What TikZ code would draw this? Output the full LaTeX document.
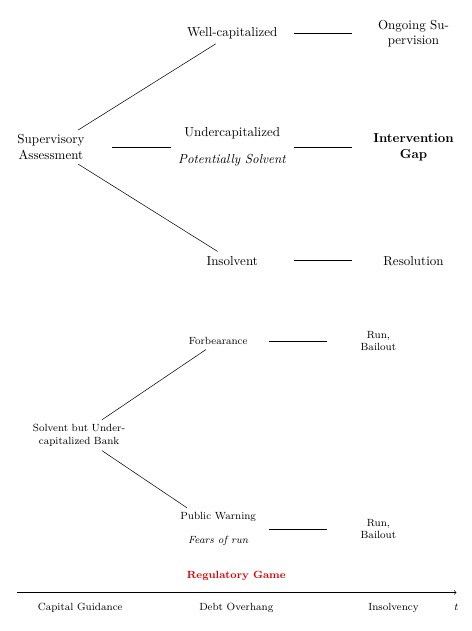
\documentclass[tikz,border=0pt]{standalone}
\usepackage{amsmath,amssymb}
\usetikzlibrary{positioning}

\begin{document}
\begin{tikzpicture}[on grid, node distance=30.7mm and 49mm, >=to]
\tikzstyle{st}=[align=center, minimum width=3.3cm, inner sep=3.33pt]
\tikzstyle{outc}=[st, text width=2.2cm]
\tikzstyle{sm}=[align=center, minimum width=2.75cm, font=\footnotesize]
\tikzstyle{tl}=[font=\footnotesize]
\path[use as bounding box] (-39.2pt,113.1pt) rectangle (323.8pt,-372.2pt);
% supervisory assessment tree
\node[outc] (sup) at (0,0) {Supervisory Assessment};
\node[st, right=of sup] (under) {Undercapitalized\\[3mm]\textit{Potentially Solvent}};
\node[st, above=of under] (wc) {Well-capitalized};
\node[st, below=of under] (ins) {Insolvent};
\node[outc, right=of wc] (ong) {Ongoing Su-\\pervision};
\node[outc, right=of under, font=\bfseries] (gapn) {Intervention Gap};
\node[outc, right=of ins] (res) {Resolution};
\draw (sup) -- (wc); \draw (sup) -- (under); \draw (sup) -- (ins);
\draw (wc) -- (ong); \draw (under) -- (gapn); \draw (ins) -- (res);
% regulatory game tree
\node[sm, text width=2.5cm, below right=77.9mm and 7.6mm of sup] (solv) {Solvent but Undercapitalized Bank};
\node[sm, above right=25.4mm and 37.6mm of solv] (forb) {Forbearance};
\node[sm, below right=25.3mm and 37.6mm of solv] (warn) {Public Warning\\[3mm]\textit{Fears of run}};
\node[sm, right=43.3mm of forb] (run1) {Run,\\Bailout};
\node[sm, right=43.3mm of warn] (run2) {Run,\\Bailout};
\draw (solv) -- (forb); \draw (solv) -- (warn);
\draw (forb) -- (run1); \draw (warn) -- (run2);
% time line
\node[font=\footnotesize\bfseries, text=red!85!black, below right=37.9mm and 42.5mm of solv] (game) {Regulatory Game};
\coordinate[below left=4.6mm and 59.2mm of game] (t0);
\coordinate[below right=4.6mm and 59.5mm of game] (t1);
\draw[->] (t0) -- (t1);
\node[tl, below left=8.7mm and 42.2mm of game] (cg) {Capital Guidance};
\node[tl, below=8.7mm of game] (debt) {Debt Overhang};
\node[tl, below right=8.7mm and 42.5mm of game] (insy) {Insolvency};
\node[tl, below right=8.7mm and 59.5mm of game] (tt) {$t$};
\end{tikzpicture}
\end{document}
